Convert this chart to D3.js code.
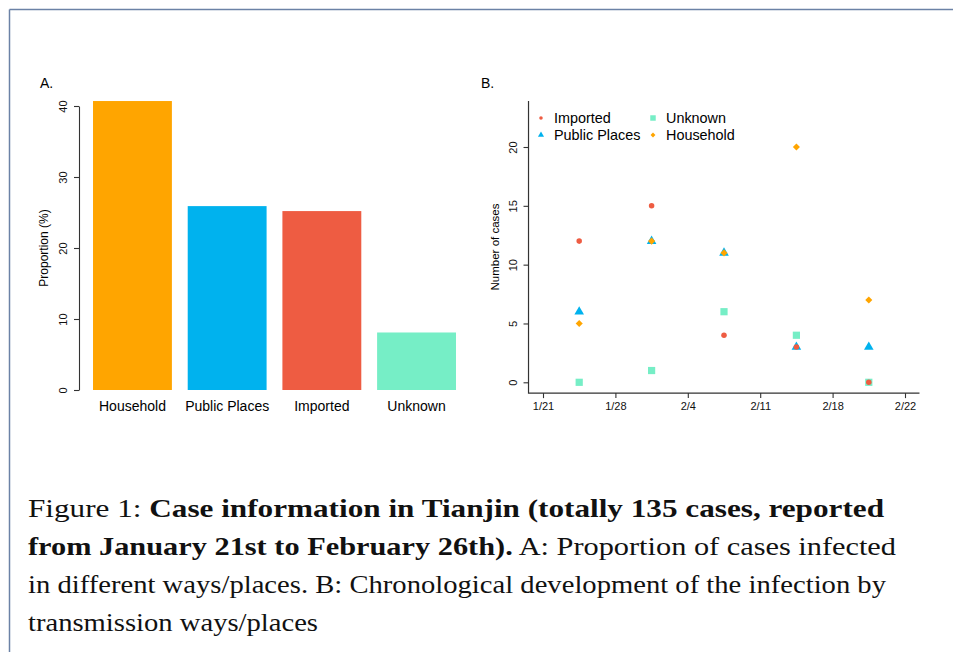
<!DOCTYPE html>
<html>
<head>
<meta charset="utf-8">
<script src="https://cdn.jsdelivr.net/npm/d3@7"></script>
<style>
  body { margin: 0; background: #fff; }
  svg { display: block; }
</style>
</head>
<body>
<svg id="viz" width="953" height="652"></svg>
<script>
// Data

var categories = ["Household", "Public Places", "Imported", "Unknown"];
var proportions = [40.7, 25.9, 25.2, 8.1];           // % of 135 cases
var barColours = ["#FFA500", "#00B2EE", "#EE5C42", "#76EEC6"];

var dateTicks = ["1/21", "1/28", "2/4", "2/11", "2/18", "2/22"];
var periods = [0.5, 1.5, 2.5, 3.5, 4.5];              // midpoints between date ticks

var importedCases = [12, 15, 4, 3, 0];
var publicCases = [6, 12, 11, 3, 3];
var unknownCases = [0, 1, 6, 4, 0];
var householdCases = [5, 12, 11, 20, 7];

var svg = d3.select("svg");
var font = "'Liberation Sans', Arial, Helvetica, sans-serif";
var axisColour = "#333";

// Page frame

svg.append("line").attr("x1", 9.5).attr("y1", 9.5).attr("x2", 953).attr("y2", 9.5)
    .attr("stroke", "#6b82a6").attr("stroke-width", 1.5);
svg.append("line").attr("x1", 9.5).attr("y1", 9.5).attr("x2", 9.5).attr("y2", 652)
    .attr("stroke", "#6b82a6").attr("stroke-width", 1.5);

// ---------- Panel A: bar chart ----------

var xA = d3.scaleBand()
    .domain(categories)
    .range([77.2, 471.8])
    .paddingInner(0.167)
    .paddingOuter(0.167);

var yA = d3.scaleLinear()
    .domain([0, 40])
    .range([390, 106]);

var gA = svg.append("g");

gA.append("text")
    .attr("x", 40).attr("y", 88)
    .style("font-family", font).style("font-size", "14px")
    .text("A.");

gA.selectAll("rect")
    .data(categories)
    .enter().append("rect")
    .attr("x", d => xA(d))
    .attr("width", xA.bandwidth())
    .attr("y", (d, i) => yA(proportions[i]))
    .attr("height", (d, i) => yA(0) - yA(proportions[i]))
    .attr("fill", (d, i) => barColours[i]);

var axisA = gA.append("g")
    .attr("transform", "translate(79,0)")
    .call(d3.axisLeft(yA).tickValues([0, 10, 20, 30, 40]).tickSize(5).tickSizeOuter(0));
styleAxis(axisA);
axisA.selectAll(".tick text")
    .attr("x", 0).attr("dy", 0)
    .attr("transform", "translate(-12,0) rotate(-90)")
    .attr("text-anchor", "middle")
    .style("font-size", "11px");

gA.append("text")
    .attr("transform", "translate(48,248) rotate(-90)")
    .attr("text-anchor", "middle")
    .style("font-family", font).style("font-size", "12px")
    .text("Proportion (%)");

gA.selectAll(".cat")
    .data(categories)
    .enter().append("text")
    .attr("class", "cat")
    .attr("x", d => xA(d) + xA.bandwidth() / 2)
    .attr("y", 411)
    .attr("text-anchor", "middle")
    .style("font-family", font).style("font-size", "14px")
    .text(d => d);

// ---------- Panel B: scatter ----------

var xB = d3.scaleLinear()
    .domain([0, 5])
    .range([543, 905]);

var yB = d3.scaleLinear()
    .domain([0, 20])
    .range([382.3, 147]);

var gB = svg.append("g");

gB.append("text")
    .attr("x", 481).attr("y", 88)
    .style("font-family", font).style("font-size", "14px")
    .text("B.");

// L-shaped box
gB.append("path")
    .attr("d", "M" + xB(-0.2) + "," + yB(23.92) + "V" + yB(-0.92) + "H" + xB(5.2))
    .attr("fill", "none").attr("stroke", axisColour).attr("stroke-width", 1.2);

var axisBx = gB.append("g")
    .attr("transform", "translate(0," + yB(-0.92) + ")")
    .call(d3.axisBottom(xB).tickValues([0, 1, 2, 3, 4, 5])
        .tickFormat((d, i) => dateTicks[i]).tickSize(5).tickSizeOuter(0));
styleAxis(axisBx);
axisBx.select(".domain").remove();
axisBx.selectAll(".tick text").attr("y", 9).style("font-size", "11px");

var axisBy = gB.append("g")
    .attr("transform", "translate(" + xB(-0.2) + ",0)")
    .call(d3.axisLeft(yB).tickValues([0, 5, 10, 15, 20]).tickSize(5).tickSizeOuter(0));
styleAxis(axisBy);
axisBy.select(".domain").remove();
axisBy.selectAll(".tick text")
    .attr("x", 0).attr("dy", 0)
    .attr("transform", "translate(-12,0) rotate(-90)")
    .attr("text-anchor", "middle")
    .style("font-size", "11px");

gB.append("text")
    .attr("transform", "translate(499,247) rotate(-90)")
    .attr("text-anchor", "middle")
    .style("font-family", font).style("font-size", "11.5px")
    .text("Number of cases");

// Series drawn in this order so overlaps look like the reference
var series = [
    { name: "Public Places", values: publicCases, colour: "#00B2EE", type: d3.symbolTriangle, size: 40, legendSize: 16, rotate: 0 },
    { name: "Unknown", values: unknownCases, colour: "#76EEC6", type: d3.symbolSquare, size: 52, legendSize: 30, rotate: 0 },
    { name: "Imported", values: importedCases, colour: "#EE5C42", type: d3.symbolCircle, size: 24, legendSize: 10, rotate: 0 },
    { name: "Household", values: householdCases, colour: "#FFA500", type: d3.symbolSquare, size: 25, legendSize: 12, rotate: 45 }
];

series.forEach(function(s) {
    gB.append("g").selectAll("path")
        .data(s.values)
        .enter().append("path")
        .attr("d", d3.symbol().type(s.type).size(s.size))
        .attr("transform", (d, i) => "translate(" + xB(periods[i]) + "," + yB(d) + ") rotate(" + s.rotate + ")")
        .attr("fill", s.colour);
});

// Legend
var legendItems = [
    { s: series[2], x: 541, y: 118 },
    { s: series[0], x: 541, y: 135 },
    { s: series[1], x: 653, y: 118 },
    { s: series[3], x: 653, y: 135 }
];

var legend = gB.append("g").selectAll("g")
    .data(legendItems)
    .enter().append("g")
    .attr("transform", d => "translate(" + d.x + "," + d.y + ")");

legend.append("path")
    .attr("d", d => d3.symbol().type(d.s.type).size(d.s.legendSize)())
    .attr("transform", d => "rotate(" + d.s.rotate + ")")
    .attr("fill", d => d.s.colour);

legend.append("text")
    .attr("x", 13).attr("dy", "0.35em")
    .style("font-family", font).style("font-size", "14.4px")
    .text(d => d.s.name);

// ---------- Caption ----------

var captionLines = [
    { parts: [["Figure 1: ", false], ["Case information in Tianjin (totally 135 cases, reported", true]], width: 856 },
    { parts: [["from January 21st to February 26th).", true], [" A: Proportion of cases infected", false]], width: 868 },
    { parts: [["in different ways/places. B: Chronological development of the infection by", false]], width: 858 },
    { parts: [["transmission ways/places", false]], width: 290 }
];

var caption = svg.append("g");
captionLines.forEach(function(line, i) {
    var t = caption.append("text")
        .attr("x", 28)
        .attr("y", 517 + i * 38)
        .attr("textLength", line.width)
        .attr("lengthAdjust", "spacingAndGlyphs")
        .style("font-family", "'Liberation Serif', 'Times New Roman', serif")
        .style("font-size", "24.5px")
        .attr("fill", "#111");
    line.parts.forEach(function(p) {
        t.append("tspan")
            .style("font-weight", p[1] ? "bold" : "normal")
            .text(p[0]);
    });
});

// Helpers

function styleAxis(g) {
    g.selectAll("path, line").attr("stroke", axisColour).attr("stroke-width", 1.1);
    g.selectAll("text").style("font-family", font).attr("fill", "#111");
}
</script>
</body>
</html>
